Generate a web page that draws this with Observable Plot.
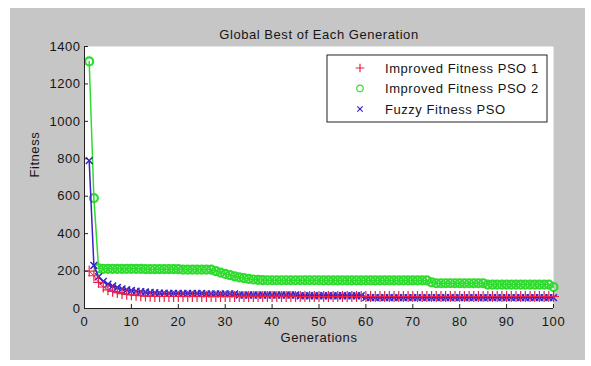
<!DOCTYPE html>
<html>
<head>
<meta charset="utf-8">
<script src="https://cdn.jsdelivr.net/npm/d3@7"></script>
<script src="https://cdn.jsdelivr.net/npm/@observablehq/plot@0.6"></script>
<style>
  html, body { margin: 0; padding: 0; background: #ffffff; }
  #chart { position: absolute; left: 10px; top: 8px; }
  #chart svg { display: block; font-family: "Liberation Sans", Arial, sans-serif; }
  #chart svg text { letter-spacing: 0.55px; }
</style>
</head>
<body>
<div id="chart"></div>
<script>
// Global best fitness per generation for three PSO variants
const generations = d3.range(1, 101);

const pso1 = [
  200, 175, 140, 115, 100, 92, 85, 80, 76, 73, 70, 68, 66, 65,
  64, 64, 64, 64, 64, 64, 64, 64, 64, 64, 64, 64, 64, 64, 64, 64,
  64, 64, 64, 64, 64, 64, 64, 64, 64, 64, 64, 64, 64, 64, 64, 64,
  64, 64, 64, 64, 64, 64, 64, 64, 64, 64, 64, 64, 64, 64, 64, 64,
  64, 64, 64, 64, 64, 64, 64, 64, 64, 64, 64, 64, 64, 64, 64, 64,
  64, 64, 64, 64, 64, 64, 64, 64, 64, 64, 64, 64, 64, 64, 64, 64,
  64, 64, 64, 64, 64, 64
];

const pso2 = [
  1320, 590, 215,
  212, 212, 212, 212, 212, 212, 212, 212, 212,
  210, 210, 210, 210, 210, 210, 210, 210,
  208, 208, 208, 208, 208, 208, 208,
  200, 192, 185, 178, 172, 166, 162, 158, 155, 153, 152,
  151, 151, 151, 151, 151, 151, 151, 151, 151, 151, 151, 151,
  150, 150, 150, 150, 150, 150, 150, 150, 150, 150, 150, 150,
  150, 150, 150, 150, 150, 150, 150, 150, 150, 150, 150,
  140,
  135, 135, 135, 135, 135, 135, 135, 135, 135, 135, 135,
  128, 128, 128, 128, 128, 128, 128, 128, 128, 128, 128, 128, 128, 128,
  115
];

const fuzzy = [
  790, 230, 170, 145, 130, 120, 112, 105, 100, 96, 93, 90, 88, 86, 84,
  82, 82, 81, 81, 81, 80, 80, 80, 80, 80,
  78, 78, 78, 78, 78, 78, 78,
  72, 72, 72, 72, 72, 72, 72, 72, 72, 72, 72, 72, 72,
  68, 68, 68, 68, 68, 68, 68, 68, 68, 68, 68, 68, 68, 68,
  58, 58, 58, 58, 58, 58, 58, 58, 58, 58, 58, 58, 58, 58, 58, 58,
  58, 58, 58, 58, 58, 58, 58, 58, 58, 58, 58, 58, 58, 58, 58, 58,
  58, 58, 58, 58, 58, 58, 58, 58, 58
];

const seriesNames = ["Improved Fitness PSO 1", "Improved Fitness PSO 2", "Fuzzy Fitness PSO"];
const seriesColors = ["#e8204a", "#2edc2e", "#3a22c8"];
const seriesSymbols = ["plus", "circle", "times"];

const xTicks = [0, 10, 20, 30, 40, 50, 60, 70, 80, 90, 100];
const yTicks = [0, 200, 400, 600, 800, 1000, 1200, 1400];

const rows = (vals) => generations.map((g, i) => ({gen: g, value: vals[i]}));
const data1 = rows(pso1), data2 = rows(pso2), data3 = rows(fuzzy);

const W = 575, H = 352;
const mL = 74, mR = 32, mT = 38, mB = 52;
const fw = W - mL - mR, fh = H - mT - mB;

const chart = Plot.plot({
  width: W,
  height: H,
  marginLeft: mL, marginRight: mR, marginTop: mT, marginBottom: mB,
  style: {background: "#c6c6c6", fontFamily: "Liberation Sans, Arial, sans-serif", fontSize: "13px", color: "#151515"},
  x: {domain: [0, 100]},
  y: {domain: [0, 1400]},
  marks: [
    Plot.frame({fill: "#ffffff", stroke: null}),
    // series: thin connecting lines plus markers
    Plot.line(data2, {x: "gen", y: "value", stroke: seriesColors[1], strokeWidth: 1.5}),
    Plot.dot(data2, {x: "gen", y: "value", symbol: "circle", r: 4, stroke: seriesColors[1], fill: "none", strokeWidth: 2.2}),
    Plot.line(data3, {x: "gen", y: "value", stroke: seriesColors[2], strokeWidth: 1.5}),
    Plot.dot(data3, {x: "gen", y: "value", symbol: "times", r: 3.2, stroke: seriesColors[2], strokeWidth: 1.5}),
    Plot.line(data1, {x: "gen", y: "value", stroke: seriesColors[0], strokeWidth: 1}),
    Plot.dot(data1, {x: "gen", y: "value", symbol: "plus", r: 3.6, stroke: seriesColors[0], strokeWidth: 1.2}),
    // axis lines and inward ticks
    Plot.ruleX([0], {stroke: "#222"}),
    Plot.ruleY([0], {stroke: "#222"}),
    Plot.tickX(xTicks, {x: d => d, insetTop: fh - 4, stroke: "#222"}),
    Plot.tickY(yTicks, {y: d => d, insetRight: fw - 4, stroke: "#222"}),
    Plot.axisX({ticks: xTicks, tickSize: 0, tickPadding: 8, tickFormat: d3.format("d"), label: null}),
    Plot.axisY({ticks: yTicks, tickSize: 0, tickPadding: 4, tickFormat: d3.format("d"), label: null}),
    // titles
    Plot.text(["Global Best of Each Generation"], {text: d => d, frameAnchor: "top", dy: -17, fontSize: 13}),
    Plot.text(["Generations"], {text: d => d, frameAnchor: "bottom", dy: 33, fontSize: 13}),
    Plot.text(["Fitness"], {text: d => d, frameAnchor: "left", dx: -50, rotate: -90, fontSize: 13})
  ]
});

// Boxed legend in the upper right of the plot area
const svg = d3.select(chart);
const lg = svg.append("g").attr("transform", "translate(317,47)");
lg.append("rect").attr("width", 220).attr("height", 67)
  .attr("fill", "#ffffff").attr("stroke", "#222").attr("stroke-width", 1);
const symbolTypes = {plus: d3.symbolPlus, circle: d3.symbolCircle, times: d3.symbolTimes};
const legendSizes = [26, 34, 20];
seriesNames.forEach((name, i) => {
  const y = 13 + i * 20.5;
  lg.append("path")
    .attr("d", d3.symbol(symbolTypes[seriesSymbols[i]], legendSizes[i])())
    .attr("transform", `translate(33,${y})`)
    .attr("fill", "none").attr("stroke", seriesColors[i]).attr("stroke-width", 1.2);
  lg.append("text").attr("x", 58).attr("y", y).attr("dy", "0.35em")
    .attr("text-anchor", "start")
    .attr("font-size", 13).attr("fill", "#151515").text(name);
});

document.getElementById("chart").appendChild(chart);
</script>
</body>
</html>
